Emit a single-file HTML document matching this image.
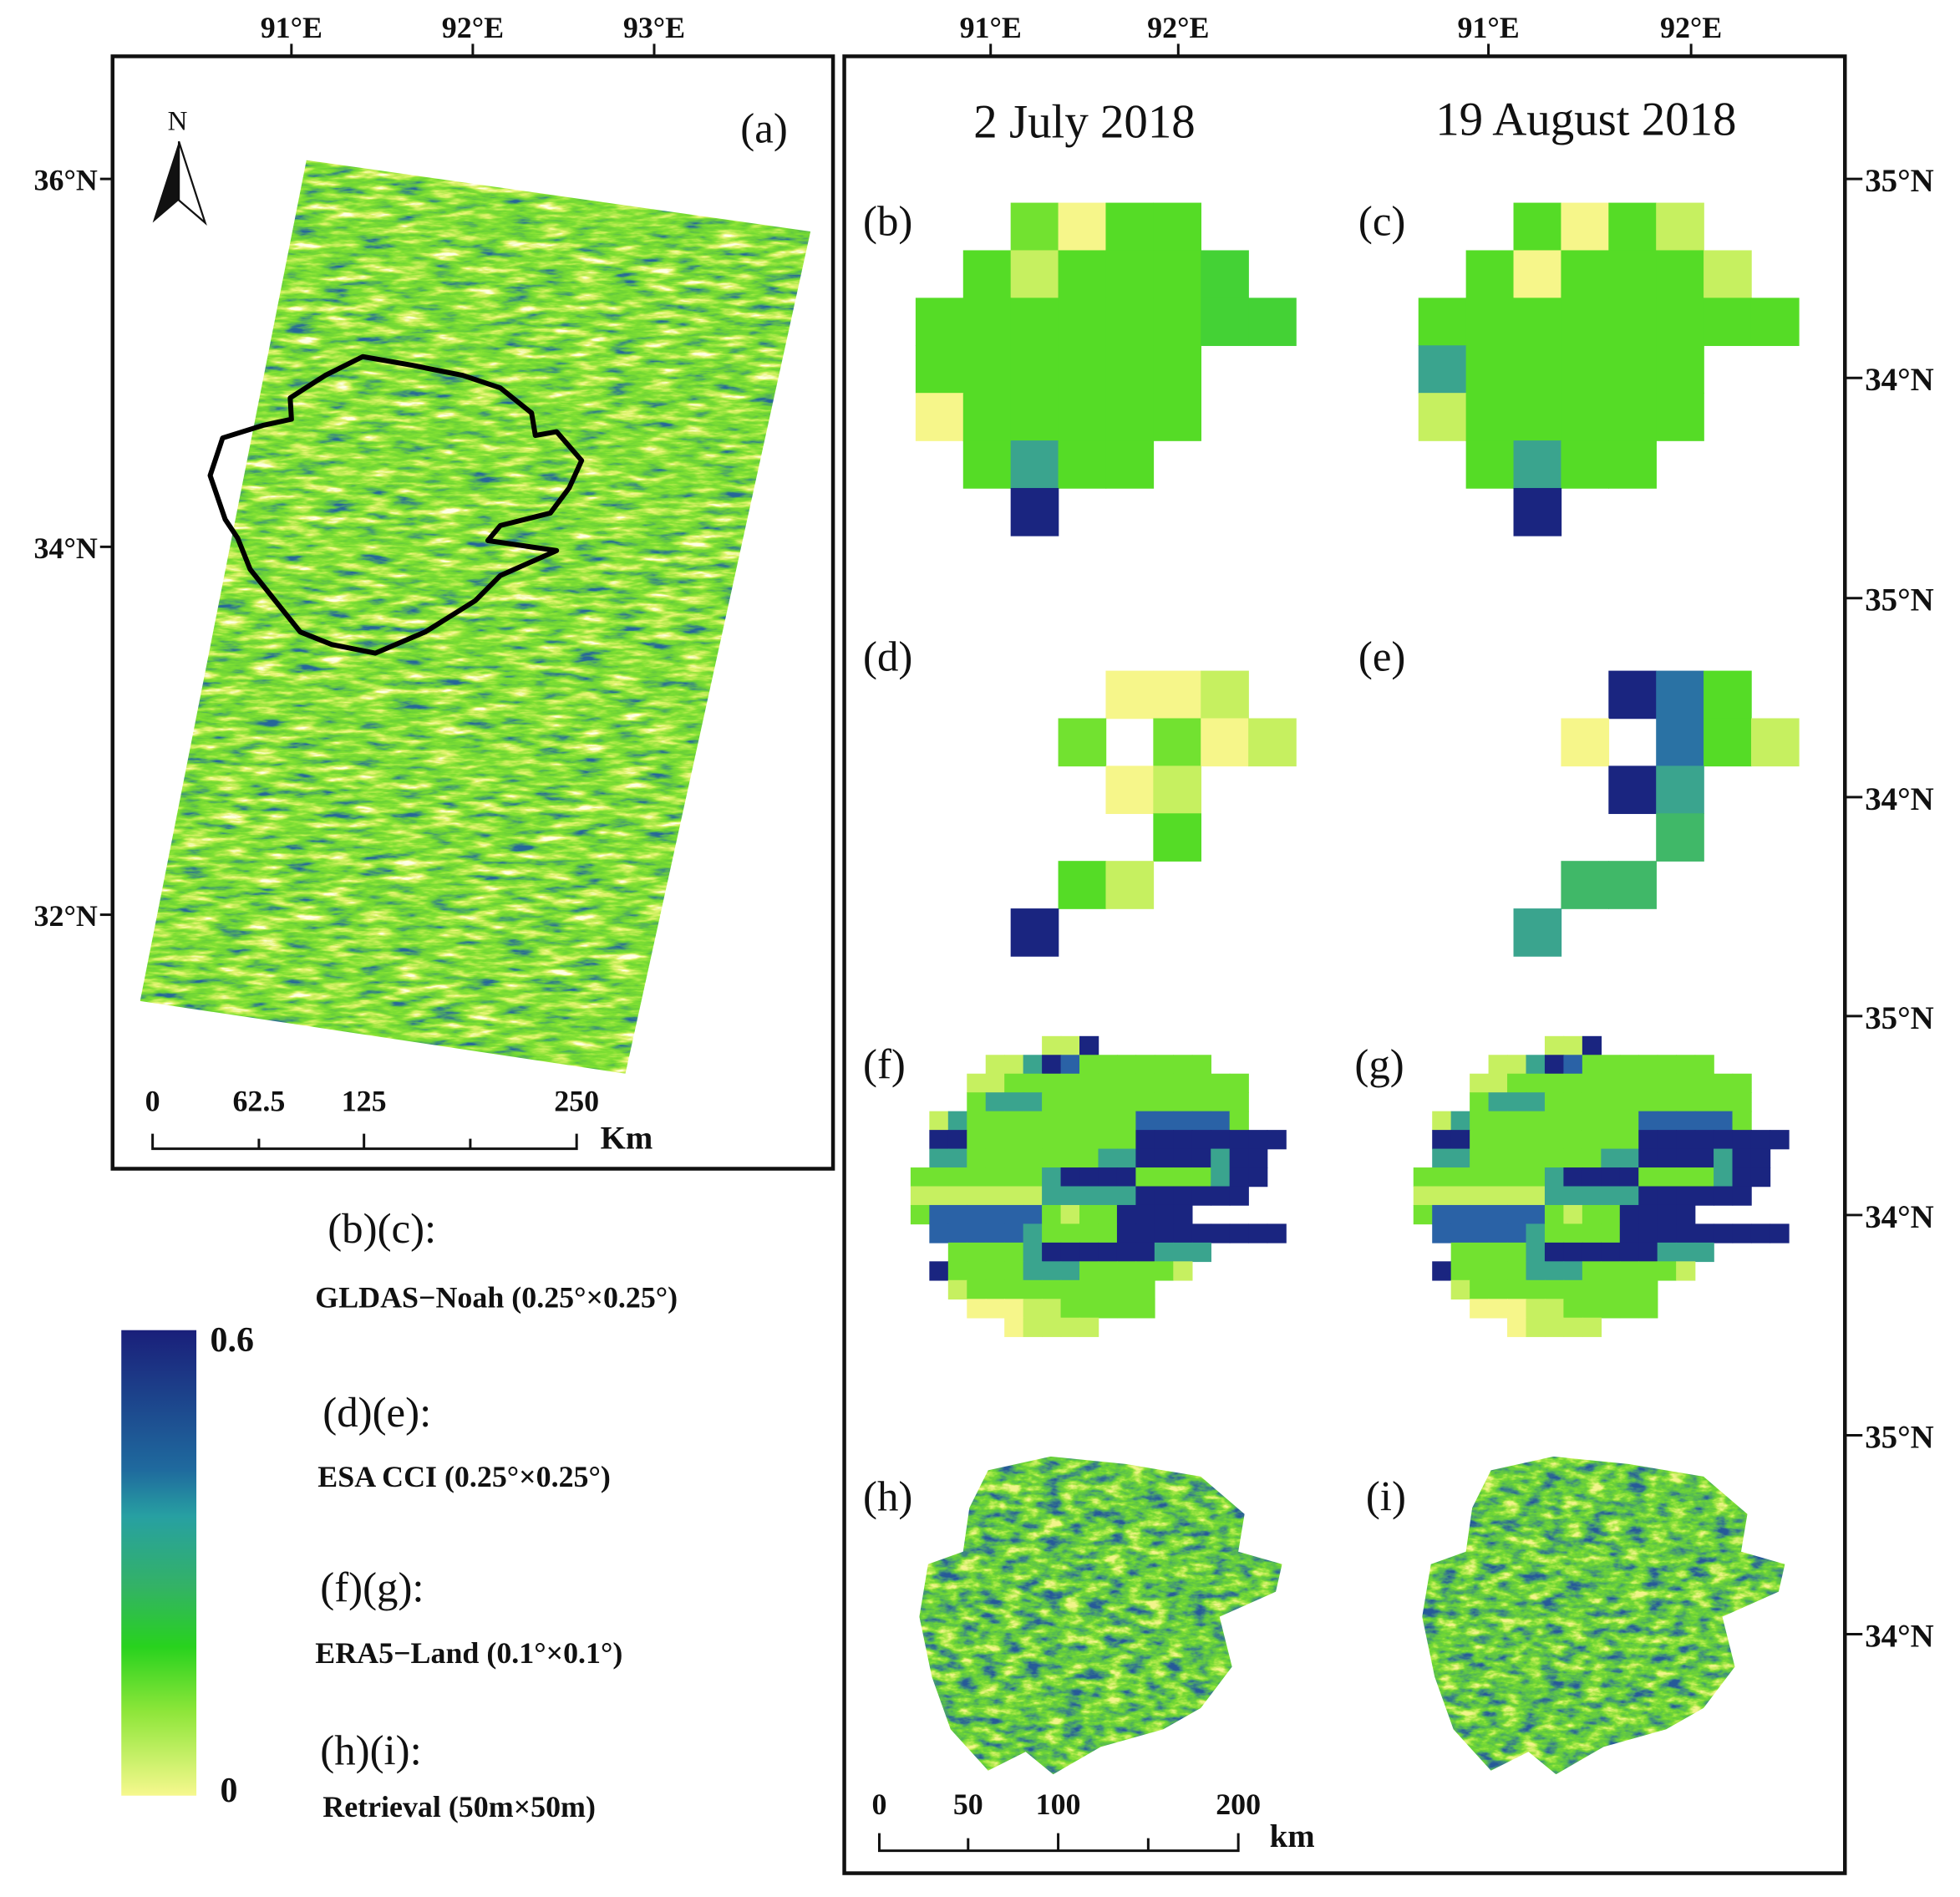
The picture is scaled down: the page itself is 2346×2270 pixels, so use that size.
<!DOCTYPE html>
<html><head><meta charset="utf-8"><style>
html,body{margin:0;padding:0;background:#fff;}
svg{display:block;}
text{font-family:"Liberation Serif",serif;fill:#111;}
</style></head><body>
<svg id="fig" width="2346" height="2270" viewBox="0 0 1567 1516" preserveAspectRatio="none" xmlns="http://www.w3.org/2000/svg">
<defs>
<linearGradient id="cbar" x1="0" y1="0" x2="0" y2="1">
<stop offset="0" stop-color="#1a1f7a"/><stop offset="0.3" stop-color="#1f6a9e"/><stop offset="0.4" stop-color="#27a0a2"/><stop offset="0.55" stop-color="#33b266"/><stop offset="0.68" stop-color="#28d21e"/><stop offset="0.82" stop-color="#8ee63a"/><stop offset="1" stop-color="#f6f88e"/>
</linearGradient>
<filter id="tex" x="0" y="0" width="1" height="1" color-interpolation-filters="sRGB">
<feTurbulence type="fractalNoise" baseFrequency="0.035 0.16" numOctaves="4" seed="7" result="n"/>
<feColorMatrix in="n" type="matrix" values="1.6 0 0 0 -0.3  1.6 0 0 0 -0.3  1.6 0 0 0 -0.3  0 0 0 0 1"/>
<feComponentTransfer>
<feFuncR type="table" tableValues="1 0.9 0.7 0.5 0.42 0.3 0.15"/>
<feFuncG type="table" tableValues="1 0.96 0.92 0.88 0.82 0.65 0.4"/>
<feFuncB type="table" tableValues="0.9 0.45 0.3 0.2 0.22 0.4 0.6"/>
</feComponentTransfer>
</filter>
<filter id="tex2" x="0" y="0" width="1" height="1" color-interpolation-filters="sRGB">
<feTurbulence type="fractalNoise" baseFrequency="0.06 0.14" numOctaves="4" seed="3" result="n"/>
<feColorMatrix in="n" type="matrix" values="1.7 0 0 0 -0.35  1.7 0 0 0 -0.35  1.7 0 0 0 -0.35  0 0 0 0 1"/>
<feComponentTransfer>
<feFuncR type="table" tableValues="0.95 0.7 0.45 0.35 0.25 0.15"/>
<feFuncG type="table" tableValues="0.96 0.92 0.85 0.75 0.55 0.35"/>
<feFuncB type="table" tableValues="0.55 0.3 0.2 0.3 0.5 0.6"/>
</feComponentTransfer>
</filter>
<clipPath id="clipA"><polygon points="245,128 648,185 500,858 112,800"/></clipPath>
<clipPath id="clipH"><path id="blob" d="M790,1175 L840,1164 L900,1170 L960,1180 L995,1210 L990,1240 L1025,1250 L1020,1272 L975,1292 L985,1332 L960,1365 L930,1382 L880,1396 L842,1418 L820,1400 L790,1415 L760,1382 L745,1340 L735,1292 L742,1250 L770,1240 L775,1205 Z"/></clipPath>
<clipPath id="clipI"><use href="#blob" transform="translate(402,0)"/></clipPath>
</defs>

<!-- Panel (a) -->
<rect x="90" y="45" width="576" height="889" fill="none" stroke="#111" stroke-width="3"/>
<g clip-path="url(#clipA)"><rect x="100" y="120" width="560" height="750" filter="url(#tex)"/></g>
<path d="M232,318 L260,300 L290,285 L330,292 L370,300 L400,310 L425,330 L428,348 L445,345 L465,368 L455,390 L440,410 L400,420 L390,432 L445,440 L400,460 L380,480 L340,505 L300,522 L265,515 L240,505 L220,480 L200,455 L190,430 L180,415 L168,380 L178,350 L210,340 L233,335 Z" fill="none" stroke="#000" stroke-width="4" stroke-linejoin="round"/>
<text x="592" y="114" font-size="34">(a)</text>
<g>
<text x="134" y="104" font-size="22">N</text>
<polygon points="143,113 122,178 143,160" fill="#111"/>
<polygon points="143,113 164,178 143,160" fill="#fff" stroke="#111" stroke-width="1.5"/>
</g>
<g font-size="24" font-weight="bold">
<text x="233" y="30" text-anchor="middle">91°E</text><line x1="233" y1="35" x2="233" y2="45" stroke="#111" stroke-width="2"/>
<text x="378" y="30" text-anchor="middle">92°E</text><line x1="378" y1="35" x2="378" y2="45" stroke="#111" stroke-width="2"/>
<text x="523" y="30" text-anchor="middle">93°E</text><line x1="523" y1="35" x2="523" y2="45" stroke="#111" stroke-width="2"/>
<text x="78" y="152" text-anchor="end">36°N</text><line x1="80" y1="143" x2="90" y2="143" stroke="#111" stroke-width="2"/>
<text x="78" y="446" text-anchor="end">34°N</text><line x1="80" y1="437" x2="90" y2="437" stroke="#111" stroke-width="2"/>
<text x="78" y="740" text-anchor="end">32°N</text><line x1="80" y1="731" x2="90" y2="731" stroke="#111" stroke-width="2"/>
</g>
<g font-size="24" font-weight="bold">
<text x="122" y="888" text-anchor="middle">0</text><text x="207" y="888" text-anchor="middle">62.5</text><text x="291" y="888" text-anchor="middle">125</text><text x="461" y="888" text-anchor="middle">250</text>
<path d="M122,906 V918 H461 V906 M207,910 V918 M291,906 V918 M376,910 V918" fill="none" stroke="#111" stroke-width="2"/>
<text x="480" y="918" font-size="26">Km</text>
</g>

<!-- Legend -->
<rect x="97" y="1063" width="60" height="372" fill="url(#cbar)"/>
<text x="168" y="1080" font-size="28" font-weight="bold">0.6</text>
<text x="176" y="1440" font-size="28" font-weight="bold">0</text>
<g>
<text x="262" y="993" font-size="34">(b)(c):</text>
<text x="252" y="1045" font-size="24" font-weight="bold">GLDAS−Noah (0.25°×0.25°)</text>
<text x="258" y="1140" font-size="34">(d)(e):</text>
<text x="254" y="1188" font-size="24" font-weight="bold">ESA CCI (0.25°×0.25°)</text>
<text x="256" y="1280" font-size="34">(f)(g):</text>
<text x="252" y="1329" font-size="24" font-weight="bold">ERA5−Land (0.1°×0.1°)</text>
<text x="256" y="1410" font-size="34">(h)(i):</text>
<text x="258" y="1452" font-size="24" font-weight="bold">Retrieval (50m×50m)</text>
</g>

<!-- Right panel -->
<rect x="675" y="45" width="800" height="1452" fill="none" stroke="#111" stroke-width="3"/>
<g font-size="24" font-weight="bold">
<text x="792" y="30" text-anchor="middle">91°E</text><line x1="792" y1="35" x2="792" y2="45" stroke="#111" stroke-width="2"/>
<text x="942" y="30" text-anchor="middle">92°E</text><line x1="942" y1="35" x2="942" y2="45" stroke="#111" stroke-width="2"/>
<text x="1190" y="30" text-anchor="middle">91°E</text><line x1="1190" y1="35" x2="1190" y2="45" stroke="#111" stroke-width="2"/>
<text x="1352" y="30" text-anchor="middle">92°E</text><line x1="1352" y1="35" x2="1352" y2="45" stroke="#111" stroke-width="2"/>
</g>
<g id="rlat" font-size="26" font-weight="bold"></g>
<text x="867" y="110" font-size="38" text-anchor="middle">2 July 2018</text>
<text x="1268" y="108" font-size="38" text-anchor="middle">19 August 2018</text>
<g font-size="34">
<text x="690" y="188">(b)</text><text x="1086" y="188">(c)</text>
<text x="690" y="536">(d)</text><text x="1086" y="536">(e)</text>
<text x="690" y="862">(f)</text><text x="1083" y="862">(g)</text>
<text x="690" y="1207">(h)</text><text x="1092" y="1207">(i)</text>
</g>
<g id="cells"></g>
<g clip-path="url(#clipH)"><rect x="730" y="1160" width="300" height="262" filter="url(#tex2)"/></g>
<g clip-path="url(#clipI)"><rect x="1132" y="1160" width="300" height="262" filter="url(#tex2)"/></g>
<g font-size="24" font-weight="bold">
<text x="703" y="1450" text-anchor="middle">0</text><text x="774" y="1450" text-anchor="middle">50</text><text x="846" y="1450" text-anchor="middle">100</text><text x="990" y="1450" text-anchor="middle">200</text>
<path d="M703,1465 V1479 H990 V1465 M774,1469 V1479 M846,1465 V1479 M918,1469 V1479" fill="none" stroke="#111" stroke-width="2"/>
<text x="1015" y="1476" font-size="26">km</text>
</g>
</svg>
<script>
// Grid data (char = moisture class)
const gridB = ["..gyGG..",".GlGGGD.","GGGGGGDD","GGGGGG..","yGGGGG..",".GtGG...","..n....."];
const gridC = ["..GyGl..",".GyGGGl.","GGGGGGGG","tGGGGG..","lGGGGG..",".GtGG...","..n....."];
const gridD = ["....yyl.","...g.gyl","....yl..",".....G..","...Gl...","..n....."];
const gridE = ["....nsG.","...y.sGl","....nt..",".....T..","...TT...","..t....."];
const gridF = [".......lln..........","....lltnbggggggg....","...llggggggggggggg..","...gtttggggggggggg..",".ltgggggggggbbbbbg..",".nngggggggggnnnnnnnn",".ttgggggggttnnnntnn.","gggggggtnnnnggggtnn.","llllllltttttnnnnnn..","gbbbbbbglggnnnn.....",".bbbbbtggggnnnnnnnnn","..ggggtnnnnnnttt....",".nggggtttgggggl.....","..lgggggggggg.......","...yyyllggggg.......",".....yllll.........."];
const gridG = [".......lln..........","....lltnbggggggg....","...llggggggggggggg..","...gtttggggggggggg..",".ltgggggggggbbbbbg..",".nngggggggggnnnnnnnn",".ttgggggggttnnnntnn.","gggggggtnnnnggggtnn.","llllllltttttnnnnnn..","gbbbbbbglggnnnn.....",".bbbbbtggggnnnnnnnnn","..ggggtnnnnnnttt....",".nggggtttgggggl.....","..lgggggggggg.......","...yyyllggggg.......",".....yllll.........."];
const palette = {g:"#72e230",G:"#55dc26",D:"#44d235",l:"#c6f060",y:"#f6f68a",t:"#3aa48e",T:"#40b868",s:"#2a72a4",b:"#2a62a6",n:"#1a2580"};
const latLabels = ["35°N","34°N","35°N","34°N","35°N","34°N","35°N","34°N"];
const latPos = [143,302,478,637,812,971,1147,1306];

const NS="http://www.w3.org/2000/svg";
function drawGrid(grid, x0, y0, cell, name){
  const g=document.getElementById('cells');
  grid.forEach((row,r)=>{[...row].forEach((ch,c)=>{
    if(ch==='.')return;
    const el=document.createElementNS(NS,'rect');
    
    
    el.setAttribute('x',x0+c*cell);el.setAttribute('y',y0+r*cell);
    el.setAttribute('width',cell+0.5);el.setAttribute('height',cell+0.5);
    el.setAttribute('fill',palette[ch]);g.appendChild(el);
  });});
}
drawGrid(gridB,732,162,38,'panel-b');
drawGrid(gridC,1134,162,38,'panel-c');
drawGrid(gridD,732,536,38,'panel-d');
drawGrid(gridE,1134,536,38,'panel-e');
drawGrid(gridF,728,828,15,'panel-f');
drawGrid(gridG,1130,828,15,'panel-g');
const lg=document.getElementById('rlat');
latLabels.forEach((t,i)=>{
  const tx=document.createElementNS(NS,'text');
  
  
  tx.setAttribute('x',1491);tx.setAttribute('y',latPos[i]+10);tx.textContent=t;lg.appendChild(tx);
  const ln=document.createElementNS(NS,'line');
  
  
  ln.setAttribute('x1',1475);ln.setAttribute('x2',1489);ln.setAttribute('y1',latPos[i]);ln.setAttribute('y2',latPos[i]);
  ln.setAttribute('stroke','#111');ln.setAttribute('stroke-width','2');lg.appendChild(ln);
});
</script>
</body></html>
